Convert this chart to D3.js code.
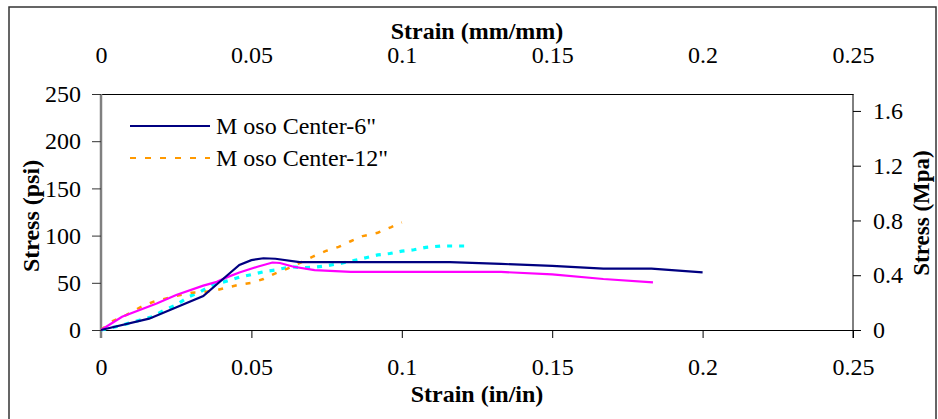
<!DOCTYPE html>
<html>
<head>
<meta charset="utf-8">
<script src="https://cdn.jsdelivr.net/npm/d3@7"></script>
<style>
  body { margin: 0; background: #fff; }
  text { font-family: "Liberation Serif", "Times New Roman", serif; }
</style>
</head>
<body>
<script>
// strain (in/in) vs stress (psi)
const center6 = [[0,0],[0.016,12],[0.034,36],[0.042,58],[0.046,69],[0.050,74],[0.054,76],[0.058,75.5],[0.066,72],[0.116,72],[0.133,70],[0.150,68],[0.167,65],[0.183,65],[0.200,61]];
const center12 = [[0,0],[0.0035,9],[0.0085,16],[0.013,24],[0.0175,30],[0.025,36],[0.030,39.5],[0.034,40],[0.038,42],[0.042,45],[0.046,48],[0.050,50],[0.054,54],[0.058,60],[0.062,65],[0.0667,72],[0.0706,78],[0.075,84],[0.079,88],[0.083,94],[0.087,99.5],[0.092,103],[0.0965,109],[0.100,114]];
const magentaRun = [[0,0],[0.007,14],[0.0185,28],[0.025,37],[0.034,47],[0.0385,51],[0.042,56],[0.046,61],[0.052,67],[0.057,71.5],[0.0595,71],[0.064,67],[0.071,63.5],[0.083,61.5],[0.133,61.5],[0.150,59],[0.167,54],[0.1835,50.5]];
const cyanRun = [[0,0],[0.005,3.5],[0.0085,6.5],[0.013,10.5],[0.017,14],[0.021,21],[0.025,26.5],[0.029,35],[0.033,40.5],[0.037,47.5],[0.042,52],[0.046,56],[0.0505,59],[0.0545,62],[0.058,63.5],[0.063,67],[0.067,66],[0.071,66.5],[0.075,68],[0.0795,70.5],[0.084,73.5],[0.088,76.5],[0.092,79.5],[0.096,81],[0.100,83.5],[0.104,85],[0.108,87.5],[0.113,89],[0.117,89],[0.121,89]];

const strainTicks = [0, 0.05, 0.1, 0.15, 0.2, 0.25];
const psiTicks = [0, 50, 100, 150, 200, 250];
const mpaTicks = [0, 0.4, 0.8, 1.2, 1.6];
const legendNames = ["M oso Center-6\"", "M oso Center-12\""];

let W = 938, H = 419;
let m = {left:101, right:853, top:94, bottom:330};

let svg = d3.select("body").append("svg").attr("width", W).attr("height", H);

// outer frame
svg.append("rect").attr("x",9).attr("y",7).attr("width",927).attr("height",H)
   .attr("fill","none").attr("stroke","#333").attr("stroke-width",1.5);

let x = d3.scaleLinear().domain([0,0.25]).range([m.left, m.right]);
let y = d3.scaleLinear().domain([0,250]).range([m.bottom, m.top]);
let y2 = d3.scaleLinear().domain([0, 250*0.00689476]).range([m.bottom, m.top]);

let fmt = d => d3.format("")(+d.toFixed(2));

//bottom axis
let xb = svg.append("g").attr("transform","translate(0,"+m.bottom+")")
   .call(d3.axisBottom(x).tickValues(strainTicks).tickFormat(fmt).tickSizeInner(8).tickSizeOuter(0));
xb.selectAll("text").attr("y",45).attr("dy",null);

//top axis
let xt = svg.append("g").attr("transform","translate(0,"+m.top+")")
   .call(d3.axisTop(x).tickValues(strainTicks).tickFormat(fmt).tickSize(0));
xt.selectAll("text").attr("y",-31).attr("dy",null);

//left axis
let yl = svg.append("g").attr("transform","translate("+m.left+",0)")
   .call(d3.axisLeft(y).tickValues(psiTicks).tickSizeInner(9).tickSizeOuter(0).tickPadding(11));
yl.select(".domain").attr("stroke","#808080").attr("stroke-width",2.5)
   .attr("d","M0,"+(m.top)+"V"+(m.bottom+8));

//right axis
let yr = svg.append("g").attr("transform","translate("+m.right+",0)")
   .call(d3.axisRight(y2).tickValues(mpaTicks).tickFormat(d3.format(".1~f")).tickSizeInner(8).tickSizeOuter(0).tickPadding(12));
yr.select(".domain").attr("d","M0,"+(m.top)+"V"+(m.bottom+8));

svg.selectAll(".tick text").attr("font-size",24).attr("fill","#000")
   .style("font-family","'Liberation Serif', serif");
svg.selectAll(".tick line").attr("stroke","#000");
yl.selectAll(".tick line").attr("stroke","#333");

// axis titles
svg.append("text").attr("x",477).attr("y",39).attr("text-anchor","middle")
   .attr("font-size",24).attr("font-weight","bold").text("Strain (mm/mm)");
svg.append("text").attr("x",477).attr("y",402).attr("text-anchor","middle")
   .attr("font-size",24).attr("font-weight","bold").text("Strain (in/in)");
svg.append("text").attr("transform","translate(39,216) rotate(-90)").attr("text-anchor","middle")
   .attr("font-size",24).attr("font-weight","bold").text("Stress (psi)");
svg.append("text").attr("transform","translate(929,213) rotate(-90)").attr("text-anchor","middle")
   .attr("font-size",23).attr("font-weight","bold").text("Stress (Mpa)");

// curves
let line = d3.line().x(d => x(d[0])).y(d => y(d[1]));
let series = [
  {data: cyanRun, color:"#00FFFF", width:3.2, dash:"5,7"},
  {data: center12, color:"#FF9900", width:2.5, dash:"5,9"},
  {data: magentaRun, color:"#FF00FF", width:2.2, dash:null},
  {data: center6, color:"#000080", width:2.2, dash:null}
];
svg.append("g").selectAll("path").data(series).enter().append("path")
   .attr("d", d => line(d.data))
   .attr("fill","none")
   .attr("stroke", d => d.color)
   .attr("stroke-width", d => d.width)
   .attr("stroke-dasharray", d => d.dash);

// legend
let leg = svg.append("g");
let legStyles = [{color:"#000080", dash:null}, {color:"#FF9900", dash:"6,9"}];
legendNames.forEach(function(name,i){
  let ly = 126 + i*32;
  leg.append("line").attr("x1",130).attr("x2",210).attr("y1",ly).attr("y2",ly)
     .attr("stroke",legStyles[i].color).attr("stroke-width",2.2)
     .attr("stroke-dasharray",legStyles[i].dash);
  leg.append("text").attr("x",216).attr("y",ly+8).attr("font-size",24).text(name);
});
</script>
</body>
</html>
